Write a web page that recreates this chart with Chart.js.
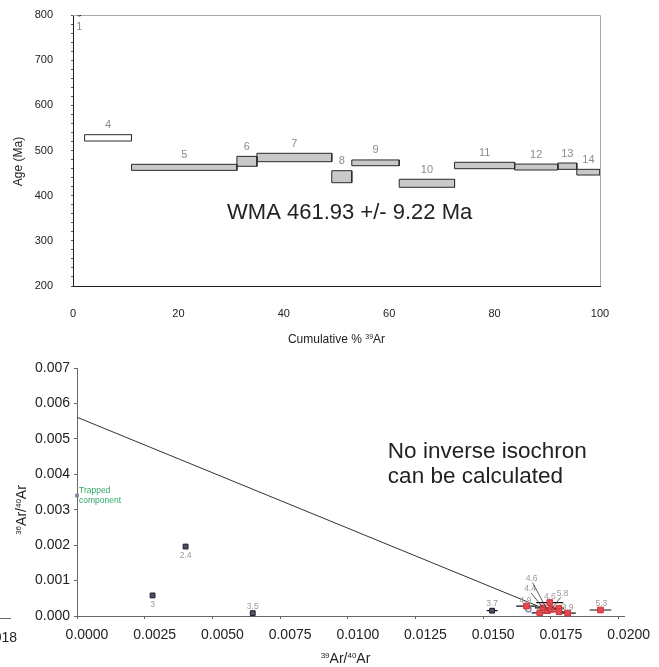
<!DOCTYPE html>
<html>
<head>
<meta charset="utf-8">
<script src="https://cdn.jsdelivr.net/npm/chart.js@4.4.1/dist/chart.umd.min.js"></script>
<style>
  html, body { margin: 0; padding: 0; background: #fff; }
  #wrap { position: relative; width: 659px; height: 667px; overflow: hidden; }
  .box { position: absolute; left: 0; width: 659px; }
  #spectrum-box { top: 0; height: 350px; }
  #isochron-box { top: 350px; height: 317px; }
</style>
</head>
<body>
<div id="wrap">
  <div class="box" id="spectrum-box"><canvas id="spectrum" width="659" height="350"></canvas></div>
  <div class="box" id="isochron-box"><canvas id="isochron" width="659" height="317"></canvas></div>
</div>
<script>
const FONT = "'Liberation Sans', Arial, Helvetica, sans-serif";

// ---- age spectrum: one box per heating step (cumulative % 39Ar vs age, +/- 1 sigma)
const stepNames = ['1', '4', '5', '6', '7', '8', '9', '10', '11', '12', '13', '14'];
const stepStart = [1.0, 2.2, 11.1, 31.1, 34.9, 49.1, 52.9, 61.9, 72.4, 83.8, 92.0, 95.6];
const stepEnd = [1.4, 11.1, 31.1, 34.9, 49.1, 52.9, 61.9, 72.4, 83.8, 92.0, 95.6, 100];
const stepAge = [812, 528, 462.7, 476, 484.5, 442, 472.7, 427.4, 466.8, 463.4, 465.3, 452];
const stepErr = [14, 7, 6.7, 11, 9.3, 13.3, 6.4, 8.9, 7.1, 6.6, 7, 6.3];
const excludedSteps = ['1', '4']; // drawn unfilled
const ageTickLabels = [200, 300, 400, 500, 600, 700, 800];
const cumTickLabels = [0, 20, 40, 60, 80, 100];
const plateauText = 'WMA 461.93 +/- 9.22 Ma';

// ---- inverse isochron: 39Ar/40Ar vs 36Ar/40Ar
const blankX = [0.00401, 0.00279, 0.00649, 0.01533];
const blankY = [0.00196, 0.00058, 0.00008, 0.00015];
const blankErrX = [0.00004, 0.00004, 0.00005, 0.0002];
const blankLabels = ['2.4', '3', '3.5', '3.7'];

const stepX = [0.01660, 0.01709, 0.01721, 0.01738, 0.01746, 0.01751, 0.01779, 0.01780, 0.01812, 0.01933];
const stepY = [0.00028, 0.00009, 0.00023, 0.00015, 0.00038, 0.00019, 0.00022, 0.00012, 0.00008, 0.00017];
const stepErrX = [0.00038, 0.0003, 0.0003, 0.0002, 0.0005, 0.0003, 0.0002, 0.0003, 0.0003, 0.0004];
const stepLabels = ['4.9', '', '4.4', '4.6', '4.6', '5.8', '', '', '3.9', '5.3'];

const openX = [0.01667];
const openY = [0.00019];

const trappedX = [0];
const trappedY = [0.0034];

const fitX = [0, 0.01734];
const fitY = [0.00561, 0.00018];

const isoXTicks = [0, 0.0025, 0.005, 0.0075, 0.01, 0.0125, 0.015, 0.0175, 0.02];
const isoYTicks = [0, 0.001, 0.002, 0.003, 0.004, 0.005, 0.006, 0.007];
const isoNote = ['No inverse isochron', 'can be calculated'];

// pixel offsets of the point labels; labels far from their point get a leader line
const blankLabelOffset = [[0, 9], [0, 9], [0, -6.5], [0, -6.7]];
const stepLabelOffset = [[-1, -5.5], null, [-13, -19], [-16, -32], [0, -6], [11.5, -16], null, null, [0, -6], [1, -6]];

// draws runs of text where some runs are superscripts, centred on (cx, cy)
function drawRich(ctx, runs, cx, cy, size, rotate, color) {
  const supSize = Math.round(size * 0.58);
  const widths = runs.map((r) => {
    ctx.font = `${r.sup ? supSize : size}px ${FONT}`;
    return ctx.measureText(r.t).width;
  });
  const total = widths.reduce((a, b) => a + b, 0);
  ctx.save();
  ctx.translate(cx, cy);
  if (rotate) ctx.rotate(-Math.PI / 2);
  ctx.fillStyle = color || '#222';
  ctx.textAlign = 'left';
  ctx.textBaseline = 'alphabetic';
  const base = size * 0.36;
  let x = -total / 2;
  runs.forEach((r, i) => {
    ctx.font = `${r.sup ? supSize : size}px ${FONT}`;
    ctx.fillText(r.t, x, r.sup ? base - size * 0.34 : base);
    x += widths[i];
  });
  ctx.restore();
}

// the layout would otherwise reserve label overhang + tick padding above the axis
function noVerticalOverhang(s) {
  s.paddingTop = 0;
  s.paddingBottom = 0;
}

// ---------------- age spectrum ----------------
const spectrumPlugin = {
  id: 'spectrumExtras',
  beforeDatasetsDraw(chart) {
    const { ctx, chartArea: a } = chart;
    ctx.save();
    ctx.strokeStyle = '#a8a8a8';
    ctx.lineWidth = 1;
    ctx.beginPath();
    ctx.moveTo(a.left, a.top + 0.5);
    ctx.lineTo(a.right + 0.5, a.top + 0.5);
    ctx.lineTo(a.right + 0.5, a.bottom);
    ctx.stroke();
    ctx.restore();
  },
  afterDatasetsDraw(chart) {
    const { ctx, chartArea: a, scales: { x, y } } = chart;
    ctx.save();
    ctx.font = `11px ${FONT}`;
    ctx.fillStyle = '#8c8c8c';
    ctx.textAlign = 'center';
    ctx.textBaseline = 'middle';
    stepNames.forEach((name, i) => {
      const cx = x.getPixelForValue((stepStart[i] + stepEnd[i]) / 2);
      let ty = y.getPixelForValue(stepAge[i] + stepErr[i]) - 9.5;
      if (ty < a.top) ty = a.top + 12;
      ctx.fillText(name, cx, ty);
    });
    ctx.font = `22px ${FONT}`;
    ctx.fillStyle = '#222';
    ctx.fillText(plateauText, x.getPixelForValue(52.5), y.getPixelForValue(362));
    ctx.restore();

    drawRich(ctx, [{ t: 'Cumulative % ' }, { t: '39', sup: true }, { t: 'Ar' }],
      (a.left + a.right) / 2, 339, 12, false);
    drawRich(ctx, [{ t: 'Age (Ma)' }], 17.5, (a.top + a.bottom) / 2 + 11, 12, true);
  }
};

const stepSets = stepNames.map((name, i) => {
  const lo = stepAge[i] - stepErr[i];
  const hi = stepAge[i] + stepErr[i];
  return {
    label: 'Step ' + name,
    data: [
      { x: stepStart[i], y: lo }, { x: stepStart[i], y: hi },
      { x: stepEnd[i], y: hi }, { x: stepEnd[i], y: lo }, { x: stepStart[i], y: lo }
    ],
    fill: 'shape',
    backgroundColor: excludedSteps.includes(name) ? '#ffffff' : '#c9c9c9',
    borderColor: '#2a2a2a',
    borderWidth: 1,
    pointRadius: 0,
    tension: 0
  };
});

new Chart(document.getElementById('spectrum'), {
  type: 'line',
  data: { datasets: stepSets },
  plugins: [spectrumPlugin],
  options: {
    responsive: false,
    animation: false,
    layout: { padding: { left: 0, right: 59, top: 15, bottom: 0 } },
    plugins: { legend: { display: false }, tooltip: { enabled: false } },
    scales: {
      x: {
        type: 'linear',
        min: 0,
        max: 100,
        afterFit: (s) => { s.height = 64; },
        afterBuildTicks: (s) => { s.ticks = cumTickLabels.map((v) => ({ value: v })); },
        border: { display: true, color: '#1e1e1e', width: 1 },
        grid: { display: false },
        ticks: { color: '#222', font: { family: FONT, size: 11 }, padding: 13, maxRotation: 0, autoSkip: false }
      },
      y: {
        type: 'linear',
        min: 200,
        max: 800,
        afterFit: (s) => { s.width = 73; noVerticalOverhang(s); },
        afterBuildTicks: (s) => {
          const t = [];
          for (let v = ageTickLabels[0]; v <= ageTickLabels[ageTickLabels.length - 1]; v += 20) t.push({ value: v });
          s.ticks = t;
        },
        border: { display: true, color: '#1e1e1e', width: 1 },
        grid: { display: true, drawOnChartArea: false, drawTicks: true, tickLength: 2, color: '#555' },
        ticks: {
          color: '#222',
          font: { family: FONT, size: 11 },
          padding: 18,
          autoSkip: false,
          callback: (v) => (ageTickLabels.includes(v) ? String(v) : '')
        }
      }
    }
  }
});

// ---------------- inverse isochron ----------------
const isochronPlugin = {
  id: 'isochronExtras',
  afterDatasetsDraw(chart) {
    const { ctx, chartArea: a, scales: { x, y } } = chart;
    ctx.save();
    ctx.font = `8.5px ${FONT}`;
    ctx.fillStyle = '#9a9a9a';
    ctx.textAlign = 'center';
    ctx.textBaseline = 'middle';
    ctx.strokeStyle = '#333';
    ctx.lineWidth = 0.8;
    const place = (labels, offsets, xs, ys) => {
      labels.forEach((t, i) => {
        if (!t || !offsets[i]) return;
        const px = x.getPixelForValue(xs[i]);
        const py = y.getPixelForValue(ys[i]);
        const lx = px + offsets[i][0];
        const ly = py + offsets[i][1];
        if (Math.abs(offsets[i][1]) > 12) {
          ctx.beginPath();
          ctx.moveTo(lx + (offsets[i][0] > 0 ? -2 : 1), ly + 4);
          ctx.lineTo(px, py);
          ctx.stroke();
        }
        ctx.fillText(t, lx, ly);
      });
    };
    place(blankLabels, blankLabelOffset, blankX, blankY);
    place(stepLabels, stepLabelOffset, stepX, stepY);

    // trapped component annotation
    ctx.font = `8.5px ${FONT}`;
    ctx.fillStyle = '#2fa866';
    ctx.textAlign = 'left';
    const tx = x.getPixelForValue(trappedX[0]) + 2;
    const ty = y.getPixelForValue(trappedY[0]);
    ctx.fillText('Trapped', tx, ty - 4.7);
    ctx.fillText('component', tx, ty + 5.3);

    // note
    ctx.font = `22.5px ${FONT}`;
    ctx.fillStyle = '#222';
    const nx = x.getPixelForValue(0.01148);
    const ny = y.getPixelForValue(0.00464);
    isoNote.forEach((line, i) => ctx.fillText(line, nx, ny + i * 25.6));

    // neighbouring panel's axis, cut by the page edge
    ctx.textAlign = 'right';
    ctx.font = `14px ${FONT}`;
    ctx.fillText('0.018', 17, 288);
    ctx.strokeStyle = '#666';
    ctx.lineWidth = 1;
    ctx.beginPath();
    ctx.moveTo(0, 268.5);
    ctx.lineTo(11, 268.5);
    ctx.stroke();
    ctx.restore();

    drawRich(ctx, [{ t: '39', sup: true }, { t: 'Ar/' }, { t: '40', sup: true }, { t: 'Ar' }],
      (a.left + a.right) / 2 - 5, 308, 14, false);
    drawRich(ctx, [{ t: '36', sup: true }, { t: 'Ar/' }, { t: '40', sup: true }, { t: 'Ar' }],
      21, (a.top + a.bottom) / 2 + 18, 14, true);
  }
};

// horizontal error bars, one gap-separated polyline per series
function errorBarData(xs, ys, errs) {
  const out = [];
  xs.forEach((v, i) => {
    out.push({ x: v - errs[i], y: ys[i] }, { x: v + errs[i], y: ys[i] }, { x: v + errs[i], y: null });
  });
  return out;
}
const pts = (xs, ys) => xs.map((v, i) => ({ x: v, y: ys[i] }));

new Chart(document.getElementById('isochron'), {
  type: 'scatter',
  data: {
    datasets: [
      {
        label: 'Steps',
        data: pts(stepX, stepY),
        pointStyle: 'rect',
        pointRadius: 4,
        backgroundColor: '#e8474c',
        borderColor: '#c9343a',
        borderWidth: 1,
        clip: false
      },
      {
        label: 'Blank-dominated steps',
        data: pts(blankX, blankY),
        pointStyle: 'rect',
        pointRadius: 3.4,
        backgroundColor: '#4a5272',
        borderColor: '#1b1b1b',
        borderWidth: 1,
        clip: false
      },
      {
        label: 'Open',
        data: pts(openX, openY),
        pointStyle: 'circle',
        pointRadius: 2.6,
        backgroundColor: '#ffffff',
        borderColor: '#6c7aa6',
        borderWidth: 1.2,
        clip: false
      },
      {
        label: 'Trapped component',
        data: pts(trappedX, trappedY),
        pointStyle: 'rect',
        pointRadius: 2.6,
        backgroundColor: '#7b8199',
        borderColor: '#7b8199',
        borderWidth: 0,
        clip: false
      },
      {
        label: 'Error bars',
        data: errorBarData(stepX.concat(blankX), stepY.concat(blankY), stepErrX.concat(blankErrX)),
        showLine: true,
        spanGaps: false,
        borderColor: '#111',
        borderWidth: 1.2,
        pointRadius: 0,
        clip: false
      },
      {
        label: 'Fit',
        data: pts(fitX, fitY),
        showLine: true,
        borderColor: '#333',
        borderWidth: 1,
        pointRadius: 0
      }
    ]
  },
  plugins: [isochronPlugin],
  options: {
    responsive: false,
    animation: false,
    layout: { padding: { left: 0, right: 35, top: 18, bottom: 0 } },
    plugins: { legend: { display: false }, tooltip: { enabled: false } },
    scales: {
      x: {
        type: 'linear',
        min: 0,
        max: 0.0202,
        afterFit: (s) => { s.height = 51; },
        afterBuildTicks: (s) => { s.ticks = isoXTicks.map((v) => ({ value: v })); },
        border: { display: true, color: '#666', width: 1 },
        grid: { display: true, drawOnChartArea: false, drawTicks: true, tickLength: 3, color: '#666' },
        ticks: {
          color: '#222',
          font: { family: FONT, size: 14 },
          padding: 8,
          labelOffset: 10,
          maxRotation: 0,
          autoSkip: false,
          callback: (v) => v.toFixed(4)
        }
      },
      y: {
        type: 'linear',
        min: 0,
        max: 0.007,
        afterFit: (s) => { s.width = 77; noVerticalOverhang(s); },
        afterBuildTicks: (s) => { s.ticks = isoYTicks.map((v) => ({ value: v })); },
        border: { display: true, color: '#666', width: 1 },
        grid: { display: true, drawOnChartArea: false, drawTicks: true, tickLength: 3, color: '#666' },
        ticks: {
          color: '#222',
          font: { family: FONT, size: 14 },
          padding: 4,
          autoSkip: false,
          callback: (v) => v.toFixed(3)
        }
      }
    }
  }
});
</script>
</body>
</html>
